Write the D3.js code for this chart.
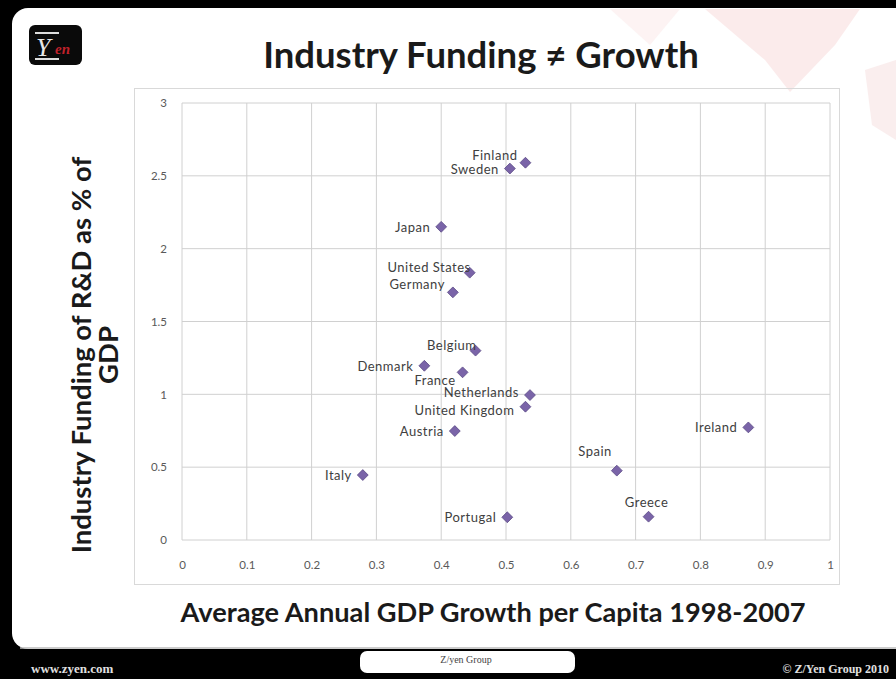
<!DOCTYPE html>
<html><head><meta charset="utf-8">
<script src="https://cdn.jsdelivr.net/npm/d3@7/dist/d3.min.js"></script>
<style>
html,body{margin:0;padding:0;background:#000;}
svg{display:block;}
</style></head>
<body>
<svg id="c" width="896" height="679"></svg>
<script>
// ---- data ----
const countries = ["Finland","Sweden","Japan","United States","Germany","Belgium","Denmark","France","Netherlands","United Kingdom","Austria","Italy","Portugal","Ireland","Spain","Greece"];
const gdpGrowth = [0.53,0.506,0.40,0.444,0.418,0.453,0.374,0.433,0.537,0.530,0.421,0.279,0.502,0.874,0.671,0.720];
const rdFunding = [2.59,2.55,2.15,1.835,1.70,1.30,1.196,1.151,0.995,0.915,0.748,0.446,0.156,0.773,0.476,0.16];
const labelSide = ["upLeft","left","left","upLeftClose","upLeft","upLeftClose","left","belowLeft","leftHigh","leftLow","left","left","left","left","aboveLeft","above"];
const xTicks = [0,0.1,0.2,0.3,0.4,0.5,0.6,0.7,0.8,0.9,1];
const yTicks = [0,0.5,1,1.5,2,2.5,3];
const title = "Industry Funding \u2260 Growth";
const xTitle = "Average Annual GDP Growth per Capita 1998-2007";
const yTitleLines = ["Industry Funding of R&D as % of","GDP"];

const svg = d3.select("#c");
const F = "Lato, 'Open Sans', sans-serif";

// slide background
svg.append("rect").attr("x",0).attr("y",0).attr("width",896).attr("height",679).attr("fill","#000");
svg.append("rect").attr("x",12).attr("y",8).attr("width",910).attr("height",641).attr("rx",16).attr("fill","#fff");
svg.append("line").attr("x1",20).attr("x2",896).attr("y1",648).attr("y2",648).attr("stroke","#bbb").attr("stroke-width",1.5);

// faint watermark
const wm = svg.append("g").attr("opacity",0.35);
wm.append("path").attr("d","M705,9 L860,9 L835,45 L790,92 L765,60 Z").attr("fill","#f6c8c8");
wm.append("path").attr("d","M610,9 L680,9 L650,45 Z").attr("fill","#fadede");
wm.append("path").attr("d","M865,70 L896,60 L896,140 L872,125 Z").attr("fill","#f3cfcf");

// logo
const lg = svg.append("g").attr("transform","translate(29,25)");
lg.append("rect").attr("width",53).attr("height",40).attr("rx",6).attr("fill","#0a0a0a");
lg.append("line").attr("x1",6).attr("x2",30).attr("y1",8).attr("y2",8).attr("stroke","#ddd").attr("stroke-width",2);
lg.append("line").attr("x1",6).attr("x2",30).attr("y1",34).attr("y2",34).attr("stroke","#ddd").attr("stroke-width",2);
lg.append("text").attr("x",7).attr("y",31).attr("font-family","'Liberation Serif',serif").attr("font-size",26).attr("font-style","italic").attr("fill","#e8e8e8").text("Y");
lg.append("text").attr("x",26).attr("y",29).attr("font-family","'Liberation Serif',serif").attr("font-size",15).attr("font-style","italic").attr("font-weight","bold").attr("fill","#c0212a").text("en");

// title
svg.append("text").attr("x",481).attr("y",68).attr("text-anchor","middle")
  .attr("font-family",F).attr("font-weight","bold").attr("font-size",36.5).attr("fill","#1a1a1a").text(title);

// chart area
svg.append("rect").attr("x",134.5).attr("y",88.5).attr("width",705).attr("height",496).attr("fill","none").attr("stroke","#d9d9d9");

const x = d3.scaleLinear().domain([0,1]).range([182,830]);
const y = d3.scaleLinear().domain([0,3]).range([540,103]);

// grid
svg.append("g").selectAll("line").data(xTicks).join("line")
  .attr("x1",d=>x(d)).attr("x2",d=>x(d)).attr("y1",y(3)).attr("y2",y(0))
  .attr("stroke","#d0d0d0").attr("stroke-width",1);
svg.append("g").selectAll("line").data(yTicks).join("line")
  .attr("x1",x(0)).attr("x2",x(1)).attr("y1",d=>y(d)).attr("y2",d=>y(d))
  .attr("stroke","#d0d0d0").attr("stroke-width",1);

// axes (labels only)
const xa = svg.append("g").attr("transform",`translate(0,${y(0)})`)
  .call(d3.axisBottom(x).tickValues(xTicks).tickFormat(d3.format("~g")).tickSize(0).tickPadding(21));
const ya = svg.append("g").attr("transform",`translate(${x(0)},0)`)
  .call(d3.axisLeft(y).tickValues(yTicks).tickFormat(d3.format("~g")).tickSize(0).tickPadding(15));
[xa,ya].forEach(a=>{
  a.select(".domain").remove();
  a.selectAll("text").attr("font-family",F).attr("font-size",11.5).attr("fill","#595959");
});

// axis titles
svg.append("text").attr("x",493).attr("y",622).attr("text-anchor","middle")
  .attr("font-family",F).attr("font-weight","bold").attr("font-size",27.2).attr("fill","#1a1a1a").text(xTitle);
const yt = svg.append("text").attr("transform","translate(91,355) rotate(-90)").attr("text-anchor","middle")
  .attr("font-family",F).attr("font-weight","bold").attr("font-size",27.5).attr("fill","#1a1a1a");
yTitleLines.forEach((t,i)=>yt.append("tspan").attr("x",0).attr("dy",i?27:0).text(t));

// points
const pts = countries.map((c,i)=>({c, gx:gdpGrowth[i], ry:rdFunding[i], side:labelSide[i]}));
const sym = d3.symbol().type(d3.symbolDiamond2).size(75);
svg.append("g").selectAll("path").data(pts).join("path")
  .attr("transform",d=>`translate(${x(d.gx)},${y(d.ry)})`)
  .attr("d",sym).attr("fill","#7a64a8").attr("stroke","#5b4a85").attr("stroke-width",0.8);

// labels
const off = {
  left:{dx:-11,dy:5,a:"end"},
  leftHigh:{dx:-11,dy:2,a:"end"},
  leftLow:{dx:-11,dy:8,a:"end"},
  upLeft:{dx:-8,dy:-3,a:"end"},
  upLeftClose:{dx:1,dy:-1,a:"end"},
  belowLeft:{dx:-7,dy:13,a:"end"},
  aboveLeft:{dx:-5,dy:-15,a:"end"},
  above:{dx:-2,dy:-10,a:"middle"}
};
svg.append("g").selectAll("text").data(pts).join("text")
  .attr("font-family",F).attr("font-size",13).attr("letter-spacing",0.5).attr("fill","#404040")
  .attr("text-anchor",d=>off[d.side].a)
  .attr("x",d=>x(d.gx)+off[d.side].dx)
  .attr("y",d=>y(d.ry)+off[d.side].dy)
  .text(d=>d.c);

// footer
svg.append("text").attr("x",31).attr("y",673).attr("font-family","'Liberation Serif',serif").attr("font-size",13).attr("font-weight","bold").attr("fill","#e0e0e0").text("www.zyen.com");
svg.append("rect").attr("x",360).attr("y",651).attr("width",215).attr("height",22).attr("rx",7).attr("fill","#fff");
svg.append("text").attr("x",466).attr("y",663).attr("text-anchor","middle").attr("font-family","'Liberation Serif',serif").attr("font-size",10).attr("fill","#444").text("Z/yen Group");
svg.append("text").attr("x",889).attr("y",673).attr("text-anchor","end").attr("font-family","'Liberation Serif',serif").attr("font-size",12).attr("font-weight","bold").attr("fill","#e0e0e0").text("\u00a9 Z/Yen Group 2010");
</script>
</body></html>
